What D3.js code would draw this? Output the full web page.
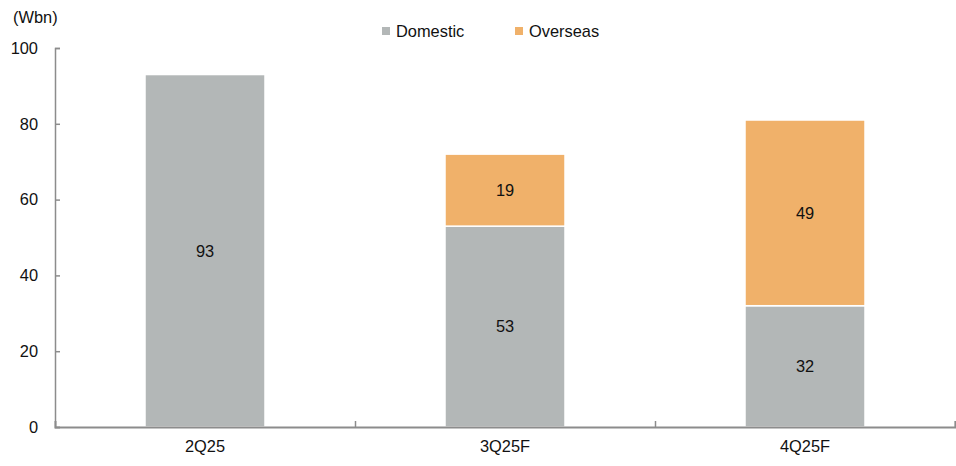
<!DOCTYPE html>
<html>
<head>
<meta charset="utf-8">
<script src="https://cdn.jsdelivr.net/npm/d3@7/dist/d3.min.js"></script>
<style>
  html, body { margin: 0; padding: 0; background: #fff; }
  svg { display: block; font-family: "Liberation Sans", Arial, sans-serif; }
</style>
</head>
<body>
<svg id="chart" width="956" height="466"></svg>
<script>
// Quarterly value, domestic vs. overseas (Wbn)
const categories = ["2Q25", "3Q25F", "4Q25F"];
const domestic = [93, 53, 32];
const overseas = [0, 19, 49];
const yTicks = [0, 20, 40, 60, 80, 100];
const seriesNames = ["Domestic", "Overseas"];
const seriesColors = ["#b3b7b7", "#f0b16a"];

const svg = d3.select("#chart");
const margin = { left: 55, right: 1, top: 48, bottom: 39 };
const W = 956, H = 466;
const fs = 16.4;

const x = d3.scaleBand().domain(categories)
  .range([margin.left, W - margin.right]).paddingInner(0.6).paddingOuter(0.3);
const xBoundary = d3.scaleLinear().domain([0, categories.length])
  .range([margin.left, W - margin.right]);
const y = d3.scaleLinear().domain([0, 100]).range([H - margin.bottom, margin.top]);

const rows = categories.map((c, i) => ({ cat: c, Domestic: domestic[i], Overseas: overseas[i] }));
const stack = d3.stack().keys(seriesNames)(rows);

// Bars
stack.forEach((layer, li) => {
  svg.append("g").selectAll("rect")
    .data(layer.filter(d => d[1] - d[0] > 0))
    .join("rect")
    .attr("x", d => x(d.data.cat))
    .attr("width", x.bandwidth())
    .attr("y", d => y(d[1]))
    .attr("height", d => y(d[0]) - y(d[1]))
    .attr("fill", seriesColors[li])
    .attr("stroke", "#fff")
    .attr("stroke-width", 1.5);
});

// Value labels centred in segments
stack.forEach((layer) => {
  svg.append("g").selectAll("text")
    .data(layer.filter(d => d[1] - d[0] > 0))
    .join("text")
    .attr("x", d => x(d.data.cat) + x.bandwidth() / 2)
    .attr("y", d => (y(d[0]) + y(d[1])) / 2)
    .attr("dy", "0.35em")
    .attr("text-anchor", "middle")
    .attr("font-size", fs)
    .attr("fill", "#111")
    .text(d => d[1] - d[0]);
});

const axisColor = "#8c8c8c";

// Y axis
const yAxis = svg.append("g")
  .attr("transform", `translate(${margin.left},0)`)
  .call(d3.axisLeft(y).tickValues(yTicks).tickSize(-5).tickPadding(17));
yAxis.select(".domain").attr("stroke", axisColor).attr("stroke-width", 1.5);
yAxis.selectAll(".tick line").attr("stroke", axisColor).attr("stroke-width", 1.5);
yAxis.selectAll("text").attr("font-size", fs).attr("fill", "#111")
  .attr("font-family", "Liberation Sans, Arial, sans-serif");

// X axis with boundary ticks between categories
const xAxis = svg.append("g")
  .attr("transform", `translate(0,${y(0)})`)
  .call(d3.axisBottom(xBoundary).tickValues(d3.range(1, categories.length + 1)).tickSize(-6).tickFormat(""));
xAxis.select(".domain").attr("stroke", axisColor).attr("stroke-width", 2);
xAxis.selectAll(".tick line").attr("stroke", axisColor).attr("stroke-width", 1.5);

svg.append("g").selectAll("text")
  .data(categories)
  .join("text")
  .attr("x", d => x(d) + x.bandwidth() / 2)
  .attr("y", y(0) + 25)
  .attr("text-anchor", "middle")
  .attr("font-size", fs)
  .attr("fill", "#111")
  .text(d => d);

// Unit label
svg.append("text")
  .attr("x", 13).attr("y", 23)
  .attr("font-size", fs).attr("fill", "#111")
  .text("(Wbn)");

// Legend
const legendX = [382, 515];
const legend = svg.append("g").selectAll("g")
  .data(seriesNames)
  .join("g")
  .attr("transform", (d, i) => `translate(${legendX[i]},27)`);
legend.append("rect").attr("width", 8).attr("height", 8)
  .attr("fill", (d, i) => seriesColors[i]);
legend.append("text").attr("x", 14).attr("y", 4).attr("dy", "0.35em")
  .attr("font-size", fs).attr("fill", "#111").text(d => d);
</script>
</body>
</html>
